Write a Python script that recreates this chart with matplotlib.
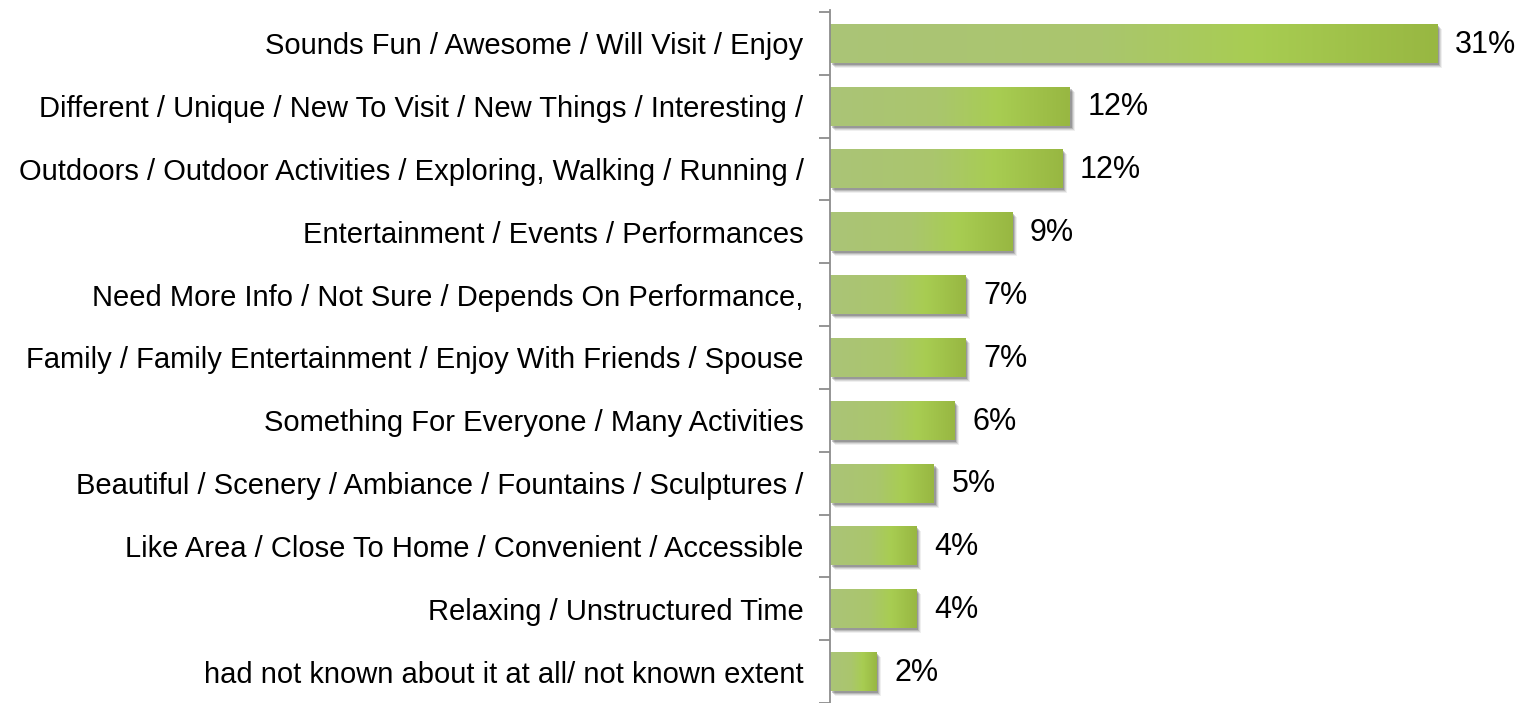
import matplotlib
matplotlib.use("Agg")
import matplotlib.pyplot as plt
import numpy as np
from matplotlib.colors import LinearSegmentedColormap
from matplotlib.patches import Rectangle

categories = [
    "Sounds Fun / Awesome / Will Visit / Enjoy",
    "Different / Unique / New To Visit / New Things / Interesting /",
    "Outdoors / Outdoor Activities / Exploring, Walking / Running /",
    "Entertainment / Events / Performances",
    "Need More Info / Not Sure / Depends On Performance,",
    "Family / Family Entertainment / Enjoy With Friends / Spouse",
    "Something For Everyone / Many Activities",
    "Beautiful / Scenery / Ambiance / Fountains / Sculptures /",
    "Like Area / Close To Home / Convenient / Accessible",
    "Relaxing / Unstructured Time",
    "had not known about it at all/ not known extent",
]
values = [31.0, 12.25, 11.85, 9.3, 6.9, 6.9, 6.35, 5.3, 4.4, 4.4, 2.35]
labels = ["31%", "12%", "12%", "9%", "7%", "7%", "6%", "5%", "4%", "4%", "2%"]

plt.rcParams['font.family'] = ['Liberation Sans', 'DejaVu Sans']

W, H = 1524, 703
fig = plt.figure(figsize=(W / 100, H / 100), dpi=100)
left_px = 830
ax = fig.add_axes([left_px / W, 0, 1 - left_px / W, 1 - 10 / H])

scale = (1438 - 831) / 31.0
xmax = (W - left_px) / scale
row_px = 63.6

cmap = LinearSegmentedColormap.from_list(
    "g", [(0.0, "#abc477"), (0.45, "#aac66d"), (0.7, "#a8cd52"), (1.0, "#98b742")])
grad = np.linspace(0, 1, 256).reshape(1, -1)

bh = 0.62
ypos = np.arange(len(categories))
for i, v in enumerate(values):
    # soft drop shadow (bottom-right)
    for off, a in [(5, 0.08), (4, 0.12), (3, 0.18), (2, 0.25)]:
        ax.add_patch(Rectangle((off / scale, i - bh / 2 + off / row_px), v,
                               bh, facecolor="#333333", alpha=a, edgecolor="none",
                               zorder=1))
    ax.imshow(grad, extent=[0, v, i + bh / 2, i - bh / 2], cmap=cmap,
              aspect="auto", zorder=2, interpolation="bicubic")
    ax.text(v + 18 / scale, i + 0.02, labels[i], va="center", ha="left",
            fontsize=22, color="black")

ax.set_xlim(0, xmax)
ax.set_ylim(10.36, -0.53)

ax.set_yticks(ypos)
ax.set_yticklabels(categories, fontsize=21)
ax.tick_params(axis="y", which="major", length=0, pad=19)
ax.set_yticks(np.arange(-0.5, 11, 1.0), minor=True)
ax.tick_params(axis="y", which="minor", length=8, color="#8c8c8c", width=1.3)
ax.set_xticks([])
for s in ["top", "right", "bottom"]:
    ax.spines[s].set_visible(False)
ax.spines["left"].set_color("#8c8c8c")
ax.spines["left"].set_linewidth(1.3)

fig.savefig("out.png", dpi=100)
